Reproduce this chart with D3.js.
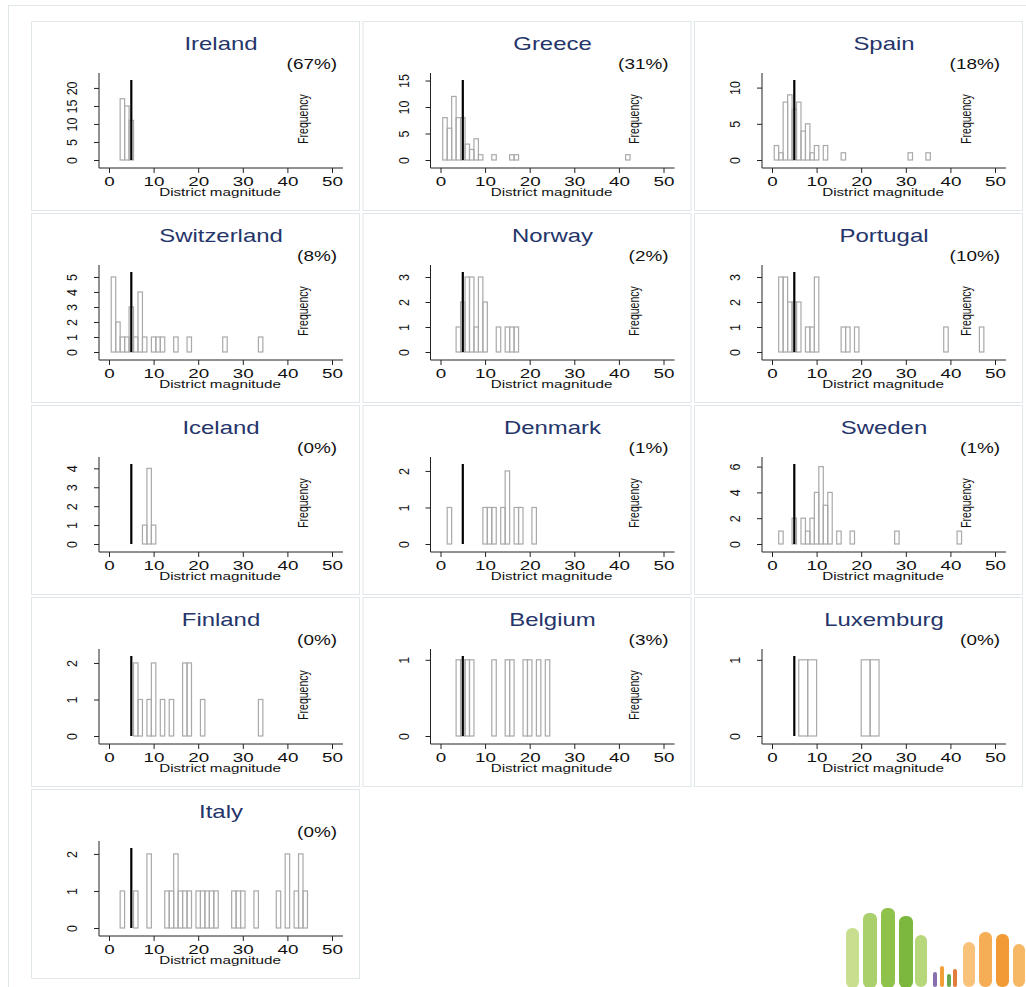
<!DOCTYPE html>
<html>
<head>
<meta charset="utf-8">
<script src="https://cdn.jsdelivr.net/npm/d3@7"></script>
<style>
  body { margin: 0; background: #fff; }
  svg text { font-family: "Liberation Sans", Arial, sans-serif; }
</style>
</head>
<body>
<div id="chart"></div>
<script>
// ---- data ----
const countries = ["Ireland", "Greece", "Spain", "Switzerland", "Norway", "Portugal",
                   "Iceland", "Denmark", "Sweden", "Finland", "Belgium", "Luxemburg", "Italy"];
const disproportionality = [67, 31, 18, 8, 2, 10, 0, 1, 1, 0, 3, 0, 0];

// district magnitudes (bin centres) and number of districts per bin
const magnitudes = [
    [3, 4, 5],
    [1, 2, 3, 4, 5, 6, 7, 8, 9, 12, 16, 17, 42],
    [1, 2, 3, 4, 5, 6, 7, 8, 9, 10, 12, 16, 31, 35],
    [1, 2, 3, 4, 5, 6, 7, 8, 10, 11, 12, 15, 18, 26, 34],
    [4, 5, 6, 7, 8, 9, 10, 13, 15, 16, 17],
    [2, 3, 4, 5, 6, 8, 9, 10, 16, 17, 19, 39, 47],
    [8, 9, 10],
    [2, 10, 11, 12, 14, 15, 17, 18, 21],
    [2, 5, 7, 8, 9, 10, 11, 12, 13, 15, 18, 28, 42],
    [6, 7, 9, 10, 12, 14, 17, 18, 21, 34],
    [4, 5, 6, 7, 12, 15, 16, 19, 20, 22, 24],
    [7, 9, 21, 23],
    [3, 6, 9, 13, 14, 15, 16, 17, 18, 20, 21, 22, 23, 24, 28, 29, 30, 33, 38, 40, 42, 43, 44]
];
const frequencies = [
    [17, 15, 11],
    [8, 6, 12, 8, 8, 3, 2, 4, 1, 1, 1, 1, 1],
    [2, 1, 8, 9, 7, 8, 4, 5, 1, 2, 2, 1, 1, 1],
    [5, 2, 1, 1, 3, 1, 4, 1, 1, 1, 1, 1, 1, 1, 1],
    [1, 2, 3, 3, 1, 3, 2, 1, 1, 1, 1],
    [3, 3, 2, 2, 2, 1, 1, 3, 1, 1, 1, 1, 1],
    [1, 4, 1],
    [1, 1, 1, 1, 1, 2, 1, 1, 1],
    [1, 2, 2, 1, 2, 4, 6, 3, 4, 1, 1, 1, 1],
    [2, 1, 1, 2, 1, 1, 2, 2, 1, 1],
    [1, 1, 1, 1, 1, 1, 1, 1, 1, 1, 1],
    [1, 1, 1, 1],
    [1, 1, 2, 1, 1, 2, 1, 1, 1, 1, 1, 1, 1, 1, 1, 1, 1, 1, 1, 2, 1, 2, 1]
];
const binWidths = [1, 1, 1, 1, 1, 1, 1, 1, 1, 1, 1, 2, 1];
// height reached by the reference line at magnitude 5
const lineTops = [22.2, 15.1, 11.05, 5.33, 3.2, 3.2, 4.23, 2.19, 6.2, 2.19, 1.05, 1.05, 2.16];
const yTicks = [
    [0, 5, 10, 15, 20], [0, 5, 10, 15], [0, 5, 10],
    [0, 1, 2, 3, 4, 5], [0, 1, 2, 3], [0, 1, 2, 3],
    [0, 1, 2, 3, 4], [0, 1, 2], [0, 2, 4, 6],
    [0, 1, 2], [0, 1], [0, 1], [0, 1, 2]
];
const showFrequency = [true, true, true, true, true, true, true, true, true, true, true, false, false];
const xTicks = [0, 10, 20, 30, 40, 50];
const threshold = 5;

// ---- layout ----
const width = 1026, height = 987;
const panelW = 331.5, panelH = 192;
const frameColor = "#e1e8eb";

const svg = d3.select("#chart")
    .append("svg")
    .attr("width", width)
    .attr("height", height);

// outer frame
svg.append("rect")
    .attr("x", 8.5).attr("y", 5.5)
    .attr("width", 1040).attr("height", 1000)
    .attr("fill", "none").attr("stroke", frameColor);

countries.forEach((name, i) => {
    const col = i % 3, row = Math.floor(i / 3);
    const g = svg.append("g")
        .attr("transform", `translate(${30 + col * panelW},${20 + row * panelH})`);
    drawPanel(g, i);
});

function drawPanel(g, i) {
    // panel box
    g.append("rect")
        .attr("x", 1.5).attr("y", 1.5)
        .attr("width", 328).attr("height", 189)
        .attr("fill", "none").attr("stroke", frameColor);

    const x = d3.scaleLinear().domain([0, 50]).range([79, 302]);
    const y = d3.scaleLinear().domain([0, lineTops[i]]).range([140, 60]);
    const w = binWidths[i];
    const bins = magnitudes[i].map((m, k) => ({ m: m, n: frequencies[i][k] }));

    // histogram bars (outlined)
    g.selectAll(".bar")
        .data(bins)
        .enter()
        .append("rect")
        .attr("class", "bar")
        .attr("x", d => x(d.m - w / 2))
        .attr("width", d => x(d.m + w / 2) - x(d.m - w / 2))
        .attr("y", d => y(d.n))
        .attr("height", d => y(0) - y(d.n))
        .attr("fill", "none")
        .attr("stroke", "#a9a9a9")
        .attr("stroke-width", 1.2);

    // reference line at magnitude 5
    g.append("line")
        .attr("x1", x(threshold)).attr("x2", x(threshold))
        .attr("y1", y(0)).attr("y2", y(lineTops[i]))
        .attr("stroke", "#000").attr("stroke-width", 2.2);

    // x axis
    const xAxis = g.append("g")
        .attr("transform", "translate(0,148)")
        .call(d3.axisBottom(x).tickValues(xTicks).tickSize(5).tickSizeOuter(0));
    xAxis.select(".domain").remove();
    xAxis.selectAll(".tick line").attr("stroke", "#222");
    xAxis.selectAll(".tick text")
        .attr("y", 0).attr("dy", 0)
        .attr("transform", "translate(0,18) scale(1.45,1)")
        .attr("font-size", 13)
        .attr("fill", "#111");
    g.append("line")
        .attr("x1", 69).attr("x2", 313).attr("y1", 148).attr("y2", 148)
        .attr("stroke", "#222");

    // y axis
    const yAxis = g.append("g")
        .attr("transform", "translate(69,0)")
        .call(d3.axisLeft(y).tickValues(yTicks[i]).tickFormat(d3.format("d")).tickSize(5).tickSizeOuter(0));
    yAxis.select(".domain").remove();
    yAxis.selectAll(".tick line").attr("stroke", "#222");
    yAxis.selectAll(".tick text")
        .attr("x", 0).attr("dy", 0)
        .attr("text-anchor", "middle")
        .attr("transform", "translate(-22,0) scale(1.15,1) rotate(-90)")
        .attr("font-size", 12.5)
        .attr("fill", "#111");
    g.append("line")
        .attr("x1", 69).attr("x2", 69).attr("y1", 53).attr("y2", 148)
        .attr("stroke", "#222");

    // texts
    g.append("text")
        .attr("transform", "translate(191,30) scale(1.33,1)")
        .attr("text-anchor", "middle")
        .attr("font-size", 18)
        .attr("fill", "#25356a")
        .text(countries[i]);

    g.append("text")
        .attr("transform", "translate(307,49) scale(1.35,1)")
        .attr("text-anchor", "end")
        .attr("font-size", 14)
        .attr("fill", "#111")
        .text(`(${disproportionality[i]}%)`);

    g.append("text")
        .attr("transform", "translate(190,176) scale(1.45,1)")
        .attr("text-anchor", "middle")
        .attr("font-size", 10.5)
        .attr("fill", "#111")
        .text("District magnitude");

    if (showFrequency[i]) {
        g.append("text")
            .attr("transform", "translate(277.5,99) scale(1.4,1) rotate(-90)")
            .attr("text-anchor", "middle")
            .attr("font-size", 10.5)
            .attr("fill", "#111")
            .text("Frequency");
    }
}

// logo in the lower right corner (decoration)
const logo = svg.append("g");
const greenFingers = [[846, 928, 13, 60, "#c7df8e"], [863, 913, 14, 75, "#a9d06a"], [881, 908, 14, 80, "#8fc24a"],
                      [899, 916, 14, 72, "#7cb83d"], [915, 935, 12, 52, "#b6d77a"]];
greenFingers.forEach(f => logo.append("rect")
    .attr("x", f[0]).attr("y", f[1]).attr("width", f[2]).attr("height", f[3])
    .attr("rx", 6).attr("fill", f[4]));
const dots = [[933, 972, 4, 15, "#8a6fb0"], [940, 966, 4, 21, "#f2a13a"], [947, 974, 4, 13, "#6aa84f"], [953, 969, 4, 18, "#e37b3a"]];
dots.forEach(f => logo.append("rect")
    .attr("x", f[0]).attr("y", f[1]).attr("width", f[2]).attr("height", f[3])
    .attr("rx", 2).attr("fill", f[4]));
const orangeFingers = [[963, 942, 12, 45, "#f8c27a"], [979, 932, 13, 55, "#f5ae55"], [996, 934, 13, 53, "#f29a35"], [1013, 944, 12, 43, "#f6b865"]];
orangeFingers.forEach(f => logo.append("rect")
    .attr("x", f[0]).attr("y", f[1]).attr("width", f[2]).attr("height", f[3])
    .attr("rx", 6).attr("fill", f[4]));
</script>
</body>
</html>
